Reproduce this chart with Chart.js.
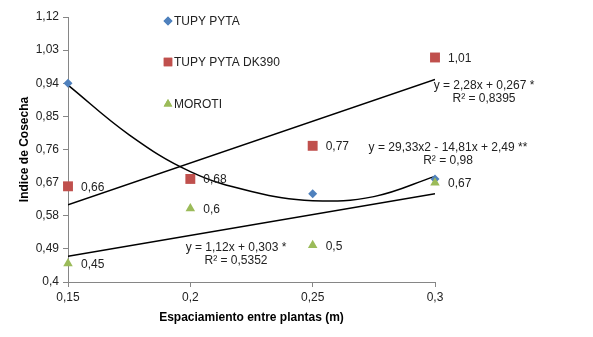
<!DOCTYPE html>
<html>
<head>
<meta charset="utf-8">
<script src="https://cdn.jsdelivr.net/npm/chart.js@4.4.1/dist/chart.umd.min.js"></script>
<style>
  html, body { margin: 0; padding: 0; background: #fff; }
  #wrap { width: 593px; height: 337px; }
</style>
</head>
<body>
<div id="wrap"><canvas id="harvestChart" width="593" height="337"></canvas></div>
<script>
// spacing between plants (m)
const spacing = [0.15, 0.2, 0.25, 0.3];

// harvest index per variety
const tupyPyta = [0.94, 0.68, 0.64, 0.68];
const tupyPytaDk390 = [0.66, 0.68, 0.77, 1.01];
const moroti = [0.45, 0.6, 0.5, 0.67];

// trend lines
const lineEndsX = [0.15, 0.3];
const trendDk390 = [0.61, 0.95];
const trendMoroti = [0.47, 0.64];
const curveX = [0.15, 0.175, 0.2, 0.225, 0.25, 0.275, 0.3];
const curveTupy = [0.935, 0.80, 0.70, 0.646, 0.621, 0.632, 0.687];

const xTicks = [0.15, 0.2, 0.25, 0.3];
const yTicks = [0.4, 0.49, 0.58, 0.67, 0.76, 0.85, 0.94, 1.03, 1.12];

const seriesNames = ['TUPY PYTA', 'TUPY PYTA DK390', 'MOROTI'];
const equations = [
  ['y = 2,28x + 0,267 *', 'R² = 0,8395'],
  ['y = 29,33x2 - 14,81x + 2,49 **', 'R² = 0,98'],
  ['y = 1,12x + 0,303 *', 'R² = 0,5352']
];

const BLUE = '#4F81BD';
const RED = '#C0504D';
const GREEN = '#9BBB59';
const FONT = '"Liberation Sans", Arial, sans-serif';

const comma = v => String(Math.round(v * 100) / 100).replace('.', ',');
const toPoints = (xs, ys) => xs.map((x, i) => ({ x: x, y: ys[i] }));

// legend, value labels and equations drawn by hand
const notesPlugin = {
  id: 'notes',
  afterDatasetsDraw(chart) {
    const ctx = chart.ctx;
    const xs = chart.scales.x;
    const ys = chart.scales.y;
    const area = chart.chartArea;
    ctx.save();
    ctx.font = '12px ' + FONT;
    ctx.fillStyle = '#222';
    ctx.textBaseline = 'middle';

    // value labels for DK390 and MOROTI
    [tupyPytaDk390, moroti].forEach(vals => {
      vals.forEach((v, i) => {
        ctx.textAlign = 'left';
        ctx.fillText(comma(v), xs.getPixelForValue(spacing[i]) + 13, ys.getPixelForValue(v) + 1);
      });
    });

    // legend
    const styles = [['rectRot', 4.5, BLUE], ['rect', 6, RED], ['triangle', 5, GREEN]];
    const legendY = [21, 62, 104];
    seriesNames.forEach((name, i) => {
      const s = styles[i];
      ctx.fillStyle = s[2];
      Chart.helpers.drawPoint(ctx, { pointStyle: s[0], radius: s[1], borderWidth: 0 }, 168, legendY[i]);
      ctx.fill();
      ctx.fillStyle = '#222';
      ctx.textAlign = 'left';
      ctx.fillText(name, 174, legendY[i] + 1);
    });

    // equations
    const eqPos = [[area.right + 49, 86], [448, 148], [236, 248]];
    ctx.textAlign = 'center';
    equations.forEach((lines, i) => {
      ctx.fillText(lines[0], eqPos[i][0], eqPos[i][1]);
      ctx.fillText(lines[1], eqPos[i][0], eqPos[i][1] + 13);
    });
    ctx.restore();
  }
};

const ctx = document.getElementById('harvestChart').getContext('2d');
new Chart(ctx, {
  type: 'scatter',
  data: {
    datasets: [
      {
        label: 'MOROTI',
        data: toPoints(spacing, moroti),
        pointStyle: 'triangle',
        pointRadius: 5.5,
        backgroundColor: GREEN,
        borderColor: GREEN,
        borderWidth: 0,
        clip: false,
        order: 0
      },
      {
        label: 'TUPY PYTA DK390',
        data: toPoints(spacing, tupyPytaDk390),
        pointStyle: 'rect',
        pointRadius: 7,
        backgroundColor: RED,
        borderColor: RED,
        borderWidth: 0,
        clip: false,
        order: 1
      },
      {
        label: 'TUPY PYTA',
        data: toPoints(spacing, tupyPyta),
        pointStyle: 'rectRot',
        pointRadius: 4.5,
        backgroundColor: BLUE,
        borderColor: BLUE,
        borderWidth: 0,
        clip: false,
        order: 2
      },
      {
        label: 'curve',
        data: toPoints(curveX, curveTupy),
        showLine: true,
        tension: 0.4,
        pointRadius: 0,
        borderColor: '#000',
        borderWidth: 1.5,
        clip: false,
        order: 3
      },
      {
        label: 'trend dk390',
        data: toPoints(lineEndsX, trendDk390),
        showLine: true,
        pointRadius: 0,
        borderColor: '#000',
        borderWidth: 1.5,
        order: 3
      },
      {
        label: 'trend moroti',
        data: toPoints(lineEndsX, trendMoroti),
        showLine: true,
        pointRadius: 0,
        borderColor: '#000',
        borderWidth: 1.5,
        order: 3
      }
    ]
  },
  options: {
    responsive: false,
    animation: false,
    layout: { padding: { left: 17, right: 158, top: 17, bottom: 12 } },
    plugins: {
      legend: { display: false },
      tooltip: { enabled: false }
    },
    scales: {
      x: {
        type: 'linear',
        min: 0.15,
        max: 0.3,
        afterBuildTicks: s => { s.ticks = xTicks.map(v => ({ value: v })); },
        afterFit: s => { s.height = 43; },
        grid: { drawOnChartArea: false, drawTicks: true, tickLength: 5, color: '#868686' },
        border: { color: '#868686', width: 1 },
        ticks: {
          color: '#222',
          font: { family: FONT, size: 12 },
          padding: 3,
          maxRotation: 0,
          callback: v => comma(v)
        },
        title: {
          display: true,
          text: 'Espaciamiento entre plantas (m)',
          color: '#000',
          font: { family: FONT, size: 12, weight: 'bold' },
          padding: { top: 4, bottom: 0 }
        }
      },
      y: {
        type: 'linear',
        min: 0.4,
        max: 1.12,
        afterBuildTicks: s => { s.ticks = yTicks.map(v => ({ value: v })); },
        afterFit: s => { s.width = 51; },
        grid: { drawOnChartArea: false, drawTicks: true, tickLength: 5, color: '#868686' },
        border: { color: '#868686', width: 1 },
        ticks: {
          color: '#222',
          font: { family: FONT, size: 12 },
          padding: 4,
          callback: v => comma(v)
        },
        title: {
          display: true,
          text: 'Indice de Cosecha',
          color: '#000',
          font: { family: FONT, size: 12, weight: 'bold' },
          padding: { top: 0, bottom: 0 }
        }
      }
    }
  },
  plugins: [notesPlugin]
});
</script>
</body>
</html>
